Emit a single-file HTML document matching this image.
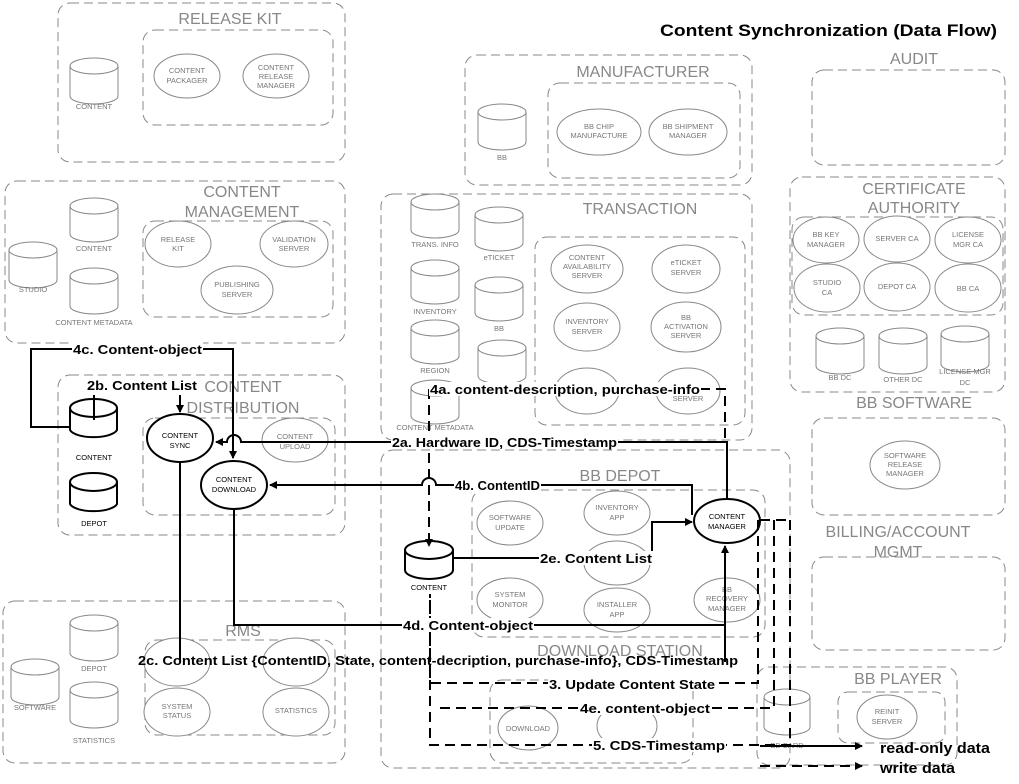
<!DOCTYPE html>
<html><head><meta charset="utf-8"><style>
html,body{margin:0;padding:0;background:#fff;}
svg{display:block;}
.g{fill:none;stroke:#888;stroke-width:1;stroke-dasharray:9 5;}
.gs{fill:#fff;stroke:#888;stroke-width:1;}
.t{font-family:"Liberation Sans",sans-serif;fill:#888;font-size:16px;text-anchor:middle;}
.s{font-family:"Liberation Sans",sans-serif;fill:#777;font-size:7.5px;text-anchor:middle;}
.b{fill:none;stroke:#000;stroke-width:2;}
.bd{fill:none;stroke:#000;stroke-width:2;stroke-dasharray:10 6;}
.bk{fill:#fff;stroke:#000;stroke-width:2;}
.l{font-family:"Liberation Sans",sans-serif;font-weight:bold;font-size:13px;fill:#000;}
.lb{fill:#fff;}
.ks{font-family:"Liberation Sans",sans-serif;fill:#000;font-size:7.5px;text-anchor:middle;}
</style></head><body>
<svg width="1019" height="784" viewBox="0 0 1019 784" xmlns="http://www.w3.org/2000/svg">
<defs><marker id="a" markerWidth="8" markerHeight="8" refX="7" refY="4" orient="auto" markerUnits="userSpaceOnUse"><path d="M0,0 L8,4 L0,8 z" fill="#000"/></marker></defs>

<rect class="g" x="58" y="3" width="287" height="159" rx="12"/>
<text class="t" x="230" y="24">RELEASE KIT</text>
<rect class="g" x="143" y="30" width="190" height="95" rx="12"/>
<rect class="g" x="5" y="181" width="340" height="162" rx="12"/>
<text class="t" x="242" y="197">CONTENT</text><text class="t" x="242" y="217">MANAGEMENT</text>
<rect class="g" x="143" y="221" width="190" height="96" rx="12"/>
<rect class="g" x="58" y="375" width="287" height="160" rx="12"/>
<text class="t" x="243" y="392">CONTENT</text><text class="t" x="243" y="413">DISTRIBUTION</text>
<rect class="g" x="143" y="418" width="192" height="97" rx="12"/>
<rect class="g" x="3" y="601" width="342" height="162" rx="12"/>
<text class="t" x="243" y="636">RMS</text>
<rect class="g" x="145" y="640" width="190" height="95" rx="12"/>
<rect class="g" x="465" y="55" width="287" height="130" rx="12"/>
<text class="t" x="643" y="77">MANUFACTURER</text>
<rect class="g" x="548" y="83" width="192" height="95" rx="12"/>
<rect class="g" x="381" y="194" width="371" height="246" rx="12"/>
<text class="t" x="640" y="214">TRANSACTION</text>
<rect class="g" x="535" y="237" width="210" height="188" rx="12"/>
<text class="t" x="914" y="64">AUDIT</text>
<rect class="g" x="812" y="70" width="193" height="95" rx="12"/>
<rect class="g" x="790" y="177" width="215" height="215" rx="12"/>
<text class="t" x="914" y="194">CERTIFICATE</text><text class="t" x="914" y="213">AUTHORITY</text>
<rect class="g" x="792" y="217" width="211" height="98" rx="12"/>
<text class="t" x="914" y="408">BB SOFTWARE</text>
<rect class="g" x="812" y="418" width="193" height="97" rx="12"/>
<text class="t" x="898" y="537">BILLING/ACCOUNT</text><text class="t" x="898" y="557">MGMT</text>
<rect class="g" x="812" y="557" width="193" height="93" rx="12"/>
<rect class="g" x="381" y="450" width="409" height="318" rx="12"/>
<text class="t" x="620" y="481">BB DEPOT</text>
<rect class="g" x="472" y="490" width="293" height="147" rx="12"/>
<text class="t" x="620" y="656">DOWNLOAD STATION</text>
<rect class="g" x="490" y="680" width="203" height="83" rx="12"/>
<rect class="g" x="757" y="667" width="200" height="98" rx="12"/>
<text class="t" x="898" y="684">BB PLAYER</text>
<rect class="g" x="838" y="692" width="107" height="51" rx="10"/>

<g class="gs">
<path d="M70,66 v30 a24,8 0 0 0 48,0 v-30"/><ellipse cx="94" cy="66" rx="24" ry="8"/>
<path d="M9,250 v30 a24,8 0 0 0 48,0 v-30"/><ellipse cx="33" cy="250" rx="24" ry="8"/>
<path d="M70,206 v28 a24,8 0 0 0 48,0 v-28"/><ellipse cx="94" cy="206" rx="24" ry="8"/>
<path d="M70,276 v30 a24,8 0 0 0 48,0 v-30"/><ellipse cx="94" cy="276" rx="24" ry="8"/>
<path d="M11,667 v30 a24,8 0 0 0 48,0 v-30"/><ellipse cx="35" cy="667" rx="24" ry="8"/>
<path d="M70,623 v30 a24,8 0 0 0 48,0 v-30"/><ellipse cx="94" cy="623" rx="24" ry="8"/>
<path d="M70,690 v30 a24,8 0 0 0 48,0 v-30"/><ellipse cx="94" cy="690" rx="24" ry="8"/>
<path d="M478,112 v30 a24,8 0 0 0 48,0 v-30"/><ellipse cx="502" cy="112" rx="24" ry="8"/>
<path d="M411,202 v28 a24,8 0 0 0 48,0 v-28"/><ellipse cx="435" cy="202" rx="24" ry="8"/>
<path d="M475,215 v28 a24,8 0 0 0 48,0 v-28"/><ellipse cx="499" cy="215" rx="24" ry="8"/>
<path d="M411,268 v28 a24,8 0 0 0 48,0 v-28"/><ellipse cx="435" cy="268" rx="24" ry="8"/>
<path d="M475,285 v28 a24,8 0 0 0 48,0 v-28"/><ellipse cx="499" cy="285" rx="24" ry="8"/>
<path d="M411,328 v28 a24,8 0 0 0 48,0 v-28"/><ellipse cx="435" cy="328" rx="24" ry="8"/>
<path d="M478,348 v28 a24,8 0 0 0 48,0 v-28"/><ellipse cx="502" cy="348" rx="24" ry="8"/>
<path d="M411,388 v28 a24,8 0 0 0 48,0 v-28"/><ellipse cx="435" cy="388" rx="24" ry="8"/>
<path d="M816,336 v30 a24,8 0 0 0 48,0 v-30"/><ellipse cx="840" cy="336" rx="24" ry="8"/>
<path d="M879,336 v30 a24,8 0 0 0 48,0 v-30"/><ellipse cx="903" cy="336" rx="24" ry="8"/>
<path d="M941,334 v30 a24,8 0 0 0 48,0 v-30"/><ellipse cx="965" cy="334" rx="24" ry="8"/>
<path d="M764,697 v30 a23,8 0 0 0 46,0 v-30"/><ellipse cx="787" cy="697" rx="23" ry="8"/>
</g>
<g class="gs">
<ellipse cx="187" cy="76" rx="33" ry="22"/><ellipse cx="276" cy="76" rx="33" ry="22"/>
<ellipse cx="178" cy="244" rx="33" ry="23"/><ellipse cx="294" cy="244" rx="34" ry="23"/><ellipse cx="237" cy="290" rx="36" ry="24"/>
<ellipse cx="295" cy="440" rx="33" ry="22"/>
<ellipse cx="177" cy="662" rx="33" ry="24"/><ellipse cx="296" cy="662" rx="33" ry="24"/><ellipse cx="177" cy="712" rx="33" ry="24"/><ellipse cx="296" cy="712" rx="33" ry="24"/>
<ellipse cx="599" cy="132" rx="42" ry="23"/><ellipse cx="688" cy="132" rx="39" ry="23"/>
<ellipse cx="587" cy="269" rx="36" ry="24"/><ellipse cx="686" cy="269" rx="34" ry="24"/>
<ellipse cx="587" cy="327" rx="33" ry="24"/><ellipse cx="686" cy="327" rx="35" ry="25"/>
<ellipse cx="587" cy="391" rx="32" ry="23"/><ellipse cx="688" cy="391" rx="32" ry="23"/>
<ellipse cx="826" cy="240" rx="33" ry="23"/><ellipse cx="897" cy="239" rx="33" ry="23"/><ellipse cx="968" cy="240" rx="33" ry="23"/>
<ellipse cx="827" cy="288" rx="33" ry="24"/><ellipse cx="897" cy="287" rx="33" ry="24"/><ellipse cx="968" cy="288" rx="33" ry="24"/>
<ellipse cx="905" cy="465" rx="35" ry="24"/>
<ellipse cx="510" cy="523" rx="33" ry="22"/><ellipse cx="617" cy="513" rx="33" ry="22"/><ellipse cx="617" cy="563" rx="33" ry="22"/>
<ellipse cx="510" cy="600" rx="33" ry="22"/><ellipse cx="617" cy="610" rx="33" ry="22"/><ellipse cx="727" cy="600" rx="33" ry="22"/>
<ellipse cx="528" cy="728" rx="30" ry="22"/><ellipse cx="627" cy="726" rx="30" ry="22"/>
<ellipse cx="887" cy="717" rx="30" ry="22"/>
</g>
<g class="s">
<text x="94" y="109">CONTENT</text>
<text x="187" y="73">CONTENT</text><text x="187" y="83">PACKAGER</text>
<text x="276" y="70">CONTENT</text><text x="276" y="79">RELEASE</text><text x="276" y="88">MANAGER</text>
<text x="33" y="292">STUDIO</text><text x="94" y="251">CONTENT</text><text x="94" y="325">CONTENT METADATA</text>
<text x="178" y="242">RELEASE</text><text x="178" y="251">KIT</text>
<text x="294" y="242">VALIDATION</text><text x="294" y="251">SERVER</text>
<text x="237" y="287">PUBLISHING</text><text x="237" y="297">SERVER</text>
<text x="295" y="439">CONTENT</text><text x="295" y="449">UPLOAD</text>
<text x="35" y="710">SOFTWARE</text><text x="94" y="671">DEPOT</text><text x="94" y="743">STATISTICS</text>
<text x="177" y="709">SYSTEM</text><text x="177" y="718">STATUS</text><text x="296" y="713">STATISTICS</text>
<text x="502" y="160">BB</text>
<text x="599" y="129">BB CHIP</text><text x="599" y="138">MANUFACTURE</text>
<text x="688" y="129">BB SHIPMENT</text><text x="688" y="138">MANAGER</text>
<text x="435" y="247">TRANS. INFO</text><text x="499" y="260">eTICKET</text><text x="435" y="314">INVENTORY</text><text x="499" y="331">BB</text><text x="435" y="373">REGION</text><text x="435" y="430">CONTENT METADATA</text>
<text x="587" y="260">CONTENT</text><text x="587" y="269">AVAILABILITY</text><text x="587" y="278">SERVER</text>
<text x="686" y="265">eTICKET</text><text x="686" y="275">SERVER</text>
<text x="587" y="324">INVENTORY</text><text x="587" y="334">SERVER</text>
<text x="686" y="320">BB</text><text x="686" y="329">ACTIVATION</text><text x="686" y="338">SERVER</text>
<text x="688" y="401">SERVER</text>
<text x="826" y="237">BB KEY</text><text x="826" y="247">MANAGER</text><text x="897" y="241">SERVER CA</text>
<text x="968" y="237">LICENSE</text><text x="968" y="247">MGR CA</text>
<text x="827" y="285">STUDIO</text><text x="827" y="295">CA</text><text x="897" y="289">DEPOT CA</text><text x="968" y="291">BB CA</text>
<text x="840" y="380">BB DC</text><text x="903" y="382">OTHER DC</text><text x="965" y="374">LICENSE MGR</text><text x="965" y="385">DC</text>
<text x="905" y="458">SOFTWARE</text><text x="905" y="467">RELEASE</text><text x="905" y="476">MANAGER</text>
<text x="510" y="520">SOFTWARE</text><text x="510" y="530">UPDATE</text>
<text x="617" y="510">INVENTORY</text><text x="617" y="520">APP</text>
<text x="510" y="597">SYSTEM</text><text x="510" y="607">MONITOR</text>
<text x="617" y="607">INSTALLER</text><text x="617" y="617">APP</text>
<text x="727" y="592">BB</text><text x="727" y="601">RECOVERY</text><text x="727" y="611">MANAGER</text>
<text x="528" y="731">DOWNLOAD</text>
<text x="787" y="748">BB CARD</text>
<text x="887" y="714">REINIT</text><text x="887" y="724">SERVER</text>
</g>

<text x="660" y="36" font-family="Liberation Sans, sans-serif" font-weight="bold" font-size="17" textLength="337" lengthAdjust="spacingAndGlyphs">Content Synchronization (Data Flow)</text>

<path class="bk" d="M70,408 v22 a24,9 0 0 0 47,0 v-22"/><ellipse class="bk" cx="93.5" cy="408" rx="23.5" ry="9"/>
<path class="bk" d="M70,482 v22 a24,9 0 0 0 47,0 v-22"/><ellipse class="bk" cx="93.5" cy="482" rx="23.5" ry="9"/>
<text class="ks" x="94" y="460">CONTENT</text><text class="ks" x="94" y="526">DEPOT</text>
<ellipse class="bk" cx="180" cy="438" rx="33" ry="24"/>
<text class="ks" x="180" y="438">CONTENT</text><text class="ks" x="180" y="448">SYNC</text>
<ellipse class="bk" cx="234" cy="485" rx="33" ry="24"/>
<text class="ks" x="234" y="482">CONTENT</text><text class="ks" x="234" y="492">DOWNLOAD</text>
<path class="bk" d="M405,550 v20 a24,9 0 0 0 48,0 v-20"/><ellipse class="bk" cx="429" cy="550" rx="24" ry="9"/>
<text class="ks" x="429" y="590">CONTENT</text>
<ellipse class="bk" cx="727" cy="521" rx="33" ry="22"/>
<text class="ks" x="727" y="519">CONTENT</text><text class="ks" x="727" y="529">MANAGER</text>

<path class="b" d="M70,427 H31 V349 H233 V458" marker-end="url(#a)"/>
<path class="b" d="M94,395 V420"/>
<path class="b" d="M180,395 V412" marker-end="url(#a)"/>
<path class="b" d="M727,499 V442 H241 a7,7 0 0 0 -14,0 H216" marker-end="url(#a)"/>
<path class="bd" d="M700,389 H725 V442"/>
<path class="bd" d="M429,389 V546" marker-end="url(#a)"/>
<path class="b" d="M692,515 V485 H436 a7,7 0 0 0 -14,0 H270" marker-end="url(#a)"/>
<path class="b" d="M453,558 H652 V522 H692" marker-end="url(#a)"/>
<path class="b" d="M234,509 V625 H725"/>
<path class="b" d="M725,662 V546" marker-end="url(#a)"/>
<path class="b" d="M180,462 V660"/>
<path class="bd" d="M760,520 H792 M758,520 V683 H430 V594 M774,520 V708 H440 M790,520 V745 H430 V594"/>
<path class="b" d="M760,746 H862" marker-end="url(#a)"/>
<path class="bd" d="M760,766 H862" marker-end="url(#a)"/>

<g class="l">
<rect class="lb" x="72" y="342" width="131" height="14"/><text x="73" y="354" textLength="129" lengthAdjust="spacingAndGlyphs">4c. Content-object</text>
<rect class="lb" x="86" y="378" width="112" height="14"/><text x="87" y="390" textLength="110" lengthAdjust="spacingAndGlyphs">2b. Content List</text>
<rect class="lb" x="429" y="382" width="272" height="14"/><text x="430" y="394" textLength="270" lengthAdjust="spacingAndGlyphs">4a. content-description, purchase-info</text>
<rect class="lb" x="391" y="435" width="227" height="14"/><text x="392" y="447" textLength="225" lengthAdjust="spacingAndGlyphs">2a. Hardware ID, CDS-Timestamp</text>
<rect class="lb" x="454" y="478" width="87" height="14"/><text x="455" y="490" textLength="85" lengthAdjust="spacingAndGlyphs">4b. ContentID</text>
<rect class="lb" x="539" y="551" width="114" height="14"/><text x="540" y="563" textLength="112" lengthAdjust="spacingAndGlyphs">2e. Content List</text>
<rect class="lb" x="402" y="618" width="132" height="14"/><text x="403" y="630" textLength="130" lengthAdjust="spacingAndGlyphs">4d. Content-object</text>
<text x="138" y="665" textLength="600" lengthAdjust="spacingAndGlyphs">2c. Content List {ContentID, State, content-decription, purchase-info}, CDS-Timestamp</text>
<rect class="lb" x="548" y="677" width="168" height="14"/><text x="549" y="689" textLength="166" lengthAdjust="spacingAndGlyphs">3. Update Content State</text>
<rect class="lb" x="579" y="701" width="132" height="14"/><text x="580" y="713" textLength="130" lengthAdjust="spacingAndGlyphs">4e. content-object</text>
<rect class="lb" x="592" y="738" width="134" height="14"/><text x="593" y="750" textLength="132" lengthAdjust="spacingAndGlyphs">5. CDS-Timestamp</text>
<text x="880" y="753" font-size="15" textLength="110" lengthAdjust="spacingAndGlyphs">read-only data</text>
<text x="880" y="773" font-size="15" textLength="75" lengthAdjust="spacingAndGlyphs">write data</text>
</g>
</svg>
</body></html>
